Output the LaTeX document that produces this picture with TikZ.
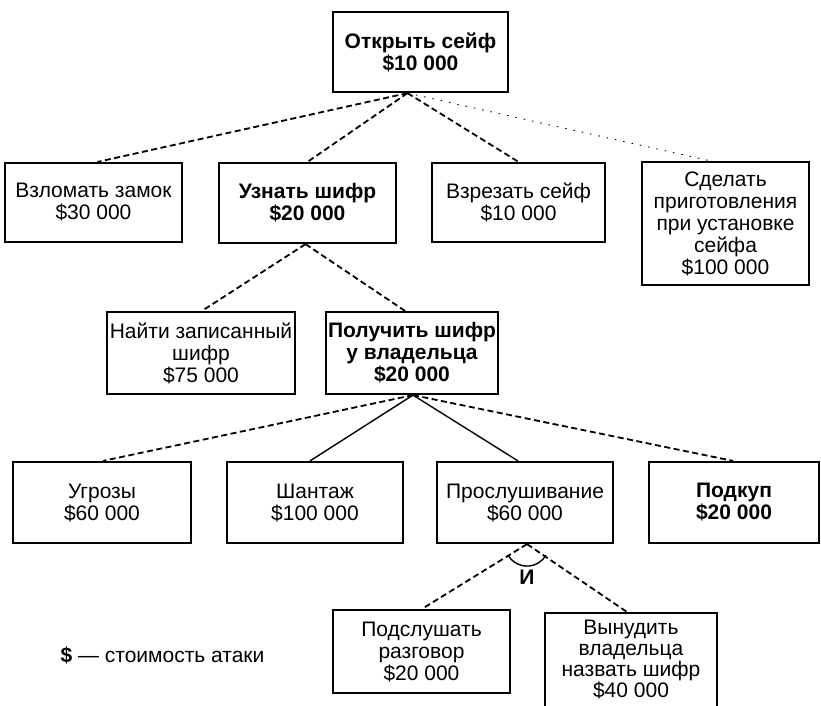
\documentclass[tikz,border=0pt]{standalone}
\usepackage{fontspec}
\setmainfont{Liberation Sans}
\begin{document}
\begin{tikzpicture}[x=1pt,y=-1pt,
  box/.style={draw, line width=2.2pt, align=center, inner sep=0pt,
    font=\fontsize{21}{22}\selectfont},
  boldbox/.style={box, font=\fontsize{21}{22}\selectfont\bfseries},
  dashline/.style={line width=1.8pt, dash pattern=on 6pt off 3.5pt},
  solidline/.style={line width=1.4pt},
  faintline/.style={line width=0.9pt, dash pattern=on 1.5pt off 7pt},
  lbl/.style={font=\fontsize{21}{21}\selectfont}]
\path[use as bounding box] (0,0) rectangle (821,706);
\clip (0,0) rectangle (821,706);
\fill[white] (0,0) rectangle (821,706);

% level 0
\node[boldbox, minimum width=175pt, minimum height=80pt] (root) at (420.5,52) {Открыть сейф\\\$10 000};
% level 1
\node[box, minimum width=177pt, minimum height=79pt] (vzlom) at (93.5,202.5) {Взломать замок\\\$30 000};
\node[boldbox, minimum width=177pt, minimum height=80pt] (uznat) at (307.5,203) {Узнать шифр\\\$20 000};
\node[box, minimum width=173pt, minimum height=79pt] (vrez) at (518.5,202.5) {Взрезать сейф\\\$10 000};
\node[box, minimum width=167pt, minimum height=123pt] (sdel) at (725.5,223.5) {Сделать\\приготовления\\при установке\\сейфа\\\$100 000};
% level 2
\node[box, minimum width=188pt, minimum height=82pt] (naiti) at (201,353) {Найти записанный\\шифр\\\$75 000};
\node[boldbox, minimum width=172pt, minimum height=82pt] (poluch) at (412,353) {Получить шифр\\у владельца\\\$20 000};
% level 3
\node[box, minimum width=178pt, minimum height=81pt] (ugroz) at (102,502.5) {Угрозы\\\$60 000};
\node[box, minimum width=176pt, minimum height=81pt] (shant) at (315,502.5) {Шантаж\\\$100 000};
\node[box, minimum width=176pt, minimum height=81pt] (pros) at (525,502.5) {Прослушивание\\\$60 000};
\node[boldbox, minimum width=170pt, minimum height=81pt] (podkup) at (734,502.5) {Подкуп\\\$20 000};
% level 4
\node[box, minimum width=177pt, minimum height=83pt] (podsl) at (421.5,651.5) {Подслушать\\разговор\\\$20 000};
\node[box, minimum width=172pt, minimum height=110pt, anchor=north] (vynud) at (631,612) {};
\node[lbl, align=center, anchor=north, inner sep=0pt] (vynudtxt) at (631,620) {Вынудить\\владельца\\назвать шифр\\\$40 000};

% connectors
\draw[dashline] ([xshift=-13pt]root.south) -- ([xshift=4pt]vzlom.north);
\draw[dashline] ([xshift=-13pt]root.south) -- (uznat.north);
\draw[dashline] ([xshift=-13pt]root.south) -- (vrez.north);
\draw[faintline] ([xshift=-13pt]root.south) -- ([xshift=-15pt]sdel.north);

\draw[dashline] ([xshift=-2pt]uznat.south) -- ([xshift=1pt]naiti.north);
\draw[dashline] ([xshift=-2pt]uznat.south) -- ([xshift=-7pt]poluch.north);

\draw[dashline] ([xshift=1pt]poluch.south) -- ([xshift=1pt]ugroz.north);
\draw[solidline] ([xshift=1pt]poluch.south) -- ([xshift=-5pt]shant.north);
\draw[solidline] ([xshift=1pt]poluch.south) -- ([xshift=-7pt]pros.north);
\draw[dashline] ([xshift=1pt]poluch.south) -- ([xshift=-1pt]podkup.north);

\draw[dashline] ([xshift=2pt]pros.south) -- ([xshift=0.5pt]podsl.north);
\draw[dashline] ([xshift=2pt]pros.south) -- ([xshift=-4pt]vynud.north);
\draw[solidline] ([xshift=2pt]pros.south) ++(211:22pt) arc[start angle=211, end angle=329, radius=22pt];
\node[font=\fontsize{21}{22}\selectfont\bfseries] (andlbl) at (527,577) {И};

% legend
\node[lbl, anchor=west] (legend) at (57,655) {\textbf{\$} — стоимость атаки};
\end{tikzpicture}
\end{document}
